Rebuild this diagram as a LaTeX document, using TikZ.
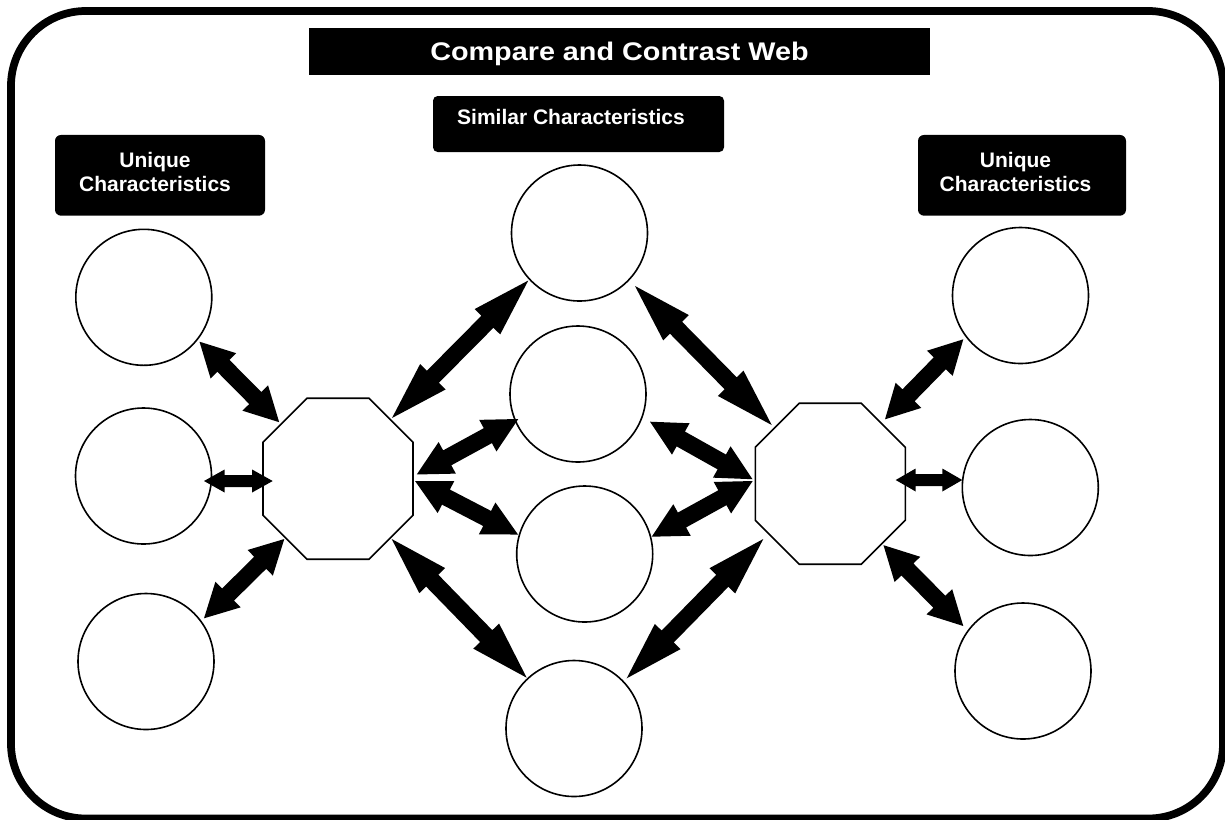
\documentclass[tikz,border=0pt]{standalone}
\usepackage{fontspec}
\setmainfont{Liberation Sans}
\newfontfamily\titlefont{Liberation Sans}[FakeStretch=1.13]
\usetikzlibrary{calc}
\newcommand\dblarrow[4]{%
  \path let \p1=($(#2)-(#1)$), \n1={atan2(\y1,\x1)}, \n2={veclen(\x1,\y1)} in
    \pgfextra{\xdef\arrangraw{\n1}\xdef\arrlenraw{\n2}};
  \pgfmathsetmacro\arrang{\arrangraw}%
  \pgfmathsetmacro\arrL{\arrlenraw}%
  \pgfmathsetmacro\arrhl{0.30*\arrL}%
  \pgfmathsetmacro\arrtl{\arrL-\arrhl}%
  \pgfmathsetmacro\arrsw{0.75*#3}%
  \pgfmathsetmacro\arrhw{0.75*#4}%
  \fill[arrowfill,shift={(#1)},rotate=\arrang]
    (0pt,0pt) -- (\arrhl pt,\arrhw pt) -- (\arrhl pt,\arrsw pt) -- (\arrtl pt,\arrsw pt)
    -- (\arrtl pt,\arrhw pt) -- (\arrL pt,0pt) -- (\arrtl pt,-\arrhw pt)
    -- (\arrtl pt,-\arrsw pt) -- (\arrhl pt,-\arrsw pt) -- (\arrhl pt,-\arrhw pt) -- cycle;
}
\tikzset{
  frame/.style={draw=black,line width=5.8pt,rounded corners=56pt},
  blank/.style={circle,draw=black,fill=white,line width=1.2pt,minimum size=136*0.75pt,inner sep=0pt},
  octbox/.style={rectangle,draw=none,minimum width=150*0.75pt,minimum height=161*0.75pt,inner sep=0pt,outer sep=0pt},
  octline/.style={draw=black,fill=white,line width=1.2pt,line join=miter},
  arrowfill/.style={fill=black},
  titlebox/.style={fill=black,text=white,inner sep=0pt,minimum width=621*0.75pt,minimum height=47*0.75pt,
    font=\titlefont\bfseries\fontsize{19.1pt}{22pt}\selectfont,text height=13.7pt,text depth=0pt},
  labelbox/.style={fill=black,rounded corners=4.5pt,inner sep=0pt},
  labeltext/.style={text=white,inner sep=0pt,align=center,font=\bfseries\fontsize{15.75pt}{18pt}\selectfont}
}
\begin{document}
\begin{tikzpicture}[x=0.75pt,y=-0.75pt]
\useasboundingbox (0,0) rectangle (1225,819);
% outer frame
\draw[frame] (11,11) rectangle (1223,818.5);
% header boxes
\node[titlebox] (title) at (619.5,51.5) {Compare and Contrast Web};
\node[labelbox,rounded corners=3.5pt,minimum width=291*0.75pt,minimum height=56*0.75pt] (simbox) at (578.5,124) {};
\node[labeltext,anchor=base] (simtext) at (571,124.3) {Similar Characteristics};
\node[labelbox,minimum width=210*0.75pt,minimum height=80.7*0.75pt] (uniLbox) at (160,175.3) {};
\node[labeltext] (uniLtext) at (155,171.9) {Unique\\Characteristics};
\node[labelbox,minimum width=208*0.75pt,minimum height=80.7*0.75pt] (uniRbox) at (1022,175.3) {};
\node[labeltext] (uniRtext) at (1015.5,171.9) {Unique\\Characteristics};
% circles
\node[blank] (L1) at (143.8,297.3) {};
\node[blank] (L2) at (143.5,476) {};
\node[blank] (L3) at (146,661.5) {};
\node[blank] (M1) at (579.5,233) {};
\node[blank] (M2) at (578,394) {};
\node[blank] (M3) at (584.7,554) {};
\node[blank] (M4) at (574,728.5) {};
\node[blank] (R1) at (1020.5,295.5) {};
\node[blank] (R2) at (1030.3,487.5) {};
\node[blank] (R3) at (1023,671) {};
% octagons
\node[octbox] (LO) at (338,478.7) {};
\node[octbox] (RO) at (830.3,483.7) {};
\foreach \o in {LO,RO}{
  \draw[octline] ($(\o.north west)+(44,0)$) -- ($(\o.north east)+(-44,0)$) -- ($(\o.north east)+(0,44)$)
    -- ($(\o.south east)+(0,-44)$) -- ($(\o.south east)+(-44,0)$) -- ($(\o.south west)+(44,0)$)
    -- ($(\o.south west)+(0,-44)$) -- ($(\o.north west)+(0,44)$) -- cycle;
}
% connector end points
\coordinate (L1e) at (199.5,341.7); \coordinate (LOa) at (279.3,422.3);
\coordinate (L2e) at (204,481);     \coordinate (LOb) at (272.7,481);
\coordinate (L3e) at (204,618.3);   \coordinate (LOc) at (284.3,539);
\coordinate (M1l) at (528.3,280.5); \coordinate (LOd) at (392,418);
\coordinate (M2l) at (518.3,419);   \coordinate (LOe) at (416.7,474.5);
\coordinate (M3l) at (518,534.5);   \coordinate (LOf) at (415,481);
\coordinate (M4l) at (526.7,677.7); \coordinate (LOg) at (391.7,539);
\coordinate (M1r) at (635,286);     \coordinate (ROa) at (771.7,425);
\coordinate (M2r) at (650,421.7);   \coordinate (ROb) at (752.7,479.3);
\coordinate (M3r) at (651.7,536.7); \coordinate (ROc) at (752.7,481);
\coordinate (M4r) at (626.7,678.3); \coordinate (ROd) at (763.3,539);
\coordinate (R1e) at (963.3,339.3); \coordinate (ROe) at (885,419.3);
\coordinate (R2e) at (962.3,480);   \coordinate (ROf) at (895.7,480);
\coordinate (R3e) at (963.3,626);   \coordinate (ROg) at (883.3,545);
% double arrows
\dblarrow{L1e}{LOa}{8.5}{18}
\dblarrow{L2e}{LOb}{6}{11.5}
\dblarrow{L3e}{LOc}{8.5}{18}
\dblarrow{M1l}{LOd}{8.5}{18}
\dblarrow{M2l}{LOe}{8.5}{18}
\dblarrow{M3l}{LOf}{8.5}{18}
\dblarrow{M4l}{LOg}{8.5}{18}
\dblarrow{M1r}{ROa}{8.5}{18}
\dblarrow{M2r}{ROb}{8.5}{18}
\dblarrow{M3r}{ROc}{8.5}{18}
\dblarrow{M4r}{ROd}{8.5}{18}
\dblarrow{R1e}{ROe}{8.5}{18}
\dblarrow{R2e}{ROf}{6}{11.5}
\dblarrow{R3e}{ROg}{8.5}{18}
\end{tikzpicture}
\end{document}
